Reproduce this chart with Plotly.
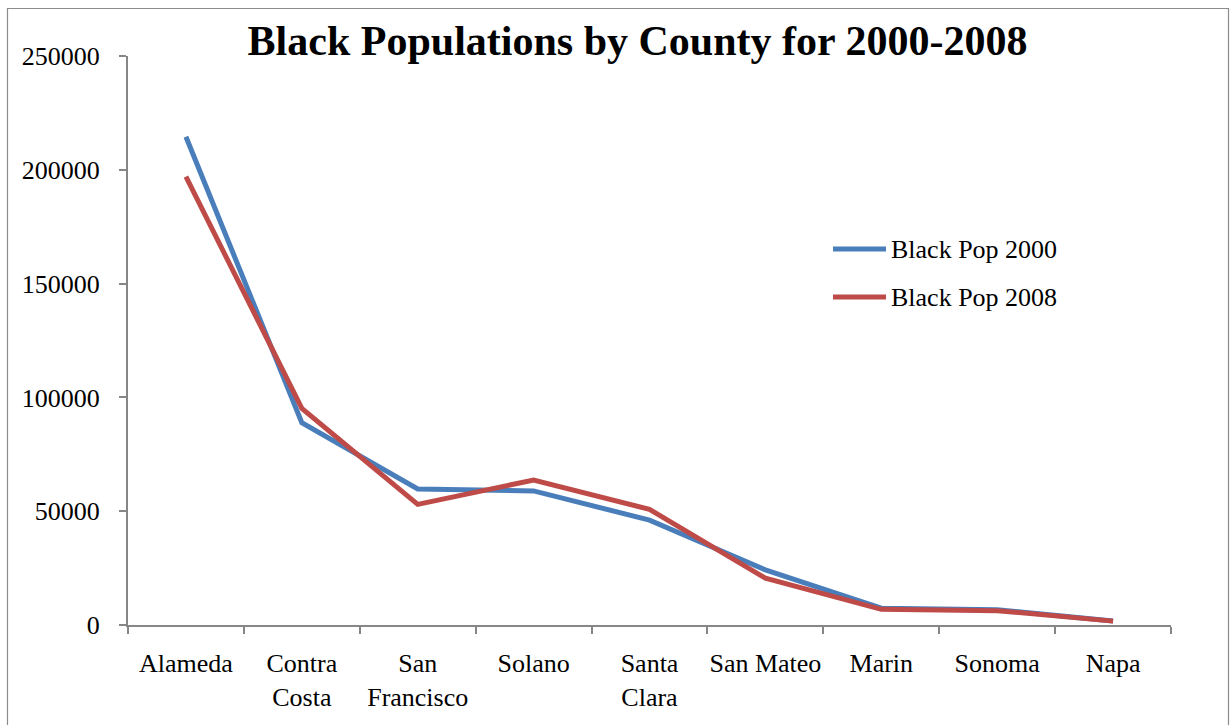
import plotly.graph_objects as go

# County names (line breaks as shown under the axis)
counties = ["Alameda", "Contra<br>Costa", "San<br>Francisco", "Solano", "Santa<br>Clara",
            "San Mateo", "Marin", "Sonoma", "Napa"]

# Black population per county
pop_2000 = [214500, 88900, 59800, 58900, 46100, 24200, 7400, 6700, 1800]
pop_2008 = [197000, 95200, 53000, 63700, 50800, 20600, 6900, 6300, 1700]

series_names = ["Black Pop 2000", "Black Pop 2008"]
series_colors = ["#4A7EBB", "#BE4B48"]

y_ticks = [0, 50000, 100000, 150000, 200000, 250000]

FONT = "Liberation Serif, Times New Roman, serif"

W, H = 1230, 725
L, R, T, B = 128, 59, 56, 100
PW, PH = W - L - R, H - T - B

def px_x(p):
    return (p - L) / PW

def px_y(p):
    return (H - B - p) / PH

fig = go.Figure()
for name, vals, col in zip(series_names, [pop_2000, pop_2008], series_colors):
    fig.add_trace(go.Scatter(
        x=counties, y=vals, name=name, mode="lines",
        line=dict(color=col, width=5, shape="linear"),
    ))

# Legend drawn as line samples with text labels
legend_rows = [249, 297]
shapes = []
annotations = []
for name, col, row in zip(series_names, series_colors, legend_rows):
    shapes.append(dict(type="line", xref="paper", yref="paper",
                       x0=px_x(833), x1=px_x(886), y0=px_y(row), y1=px_y(row),
                       line=dict(color=col, width=5)))
    annotations.append(dict(xref="paper", yref="paper", x=px_x(889), y=px_y(row),
                            text=name, showarrow=False, xanchor="left", yanchor="middle",
                            font=dict(family=FONT, size=26, color="black")))

# Outer chart border
shapes.append(dict(type="rect", xref="paper", yref="paper",
                   x0=px_x(7.5), x1=px_x(1228.5), y0=px_y(730), y1=px_y(8.5),
                   line=dict(color="#8c8c8c", width=1.2), fillcolor="rgba(0,0,0,0)"))

fig.update_layout(
    width=W, height=H,
    margin=dict(l=L, r=R, t=T, b=B, pad=0, autoexpand=False),
    paper_bgcolor="white", plot_bgcolor="white",
    showlegend=False,
    title=dict(text="<b>Black Populations by County for 2000-2008</b>",
               x=637.5 / W, xanchor="center", xref="container",
               y=1 - 40 / H, yanchor="middle", yref="container",
               font=dict(family=FONT, size=42, color="black")),
    font=dict(family=FONT, size=26, color="black"),
    shapes=shapes,
    annotations=annotations,
)

fig.update_xaxes(
    type="category", showgrid=False, showline=True, linecolor="#868686", linewidth=2,
    ticks="outside", tickson="boundaries", ticklen=7, tickcolor="#868686", tickwidth=2,
    tickfont=dict(family=FONT, size=26, color="black"), tickangle=0, automargin=False,
    ticklabelstandoff=14, range=[-0.5, 8.5], fixedrange=True,
)
fig.update_yaxes(
    range=[0, 250000], tickvals=y_ticks, ticktext=[str(v) for v in y_ticks],
    showgrid=False, zeroline=False, showline=True, linecolor="#868686", linewidth=2,
    ticks="outside", ticklen=7, tickcolor="#868686", tickwidth=2,
    tickfont=dict(family=FONT, size=26, color="black"), automargin=False,
    ticklabelstandoff=14,
)

fig.write_html("out.html")
